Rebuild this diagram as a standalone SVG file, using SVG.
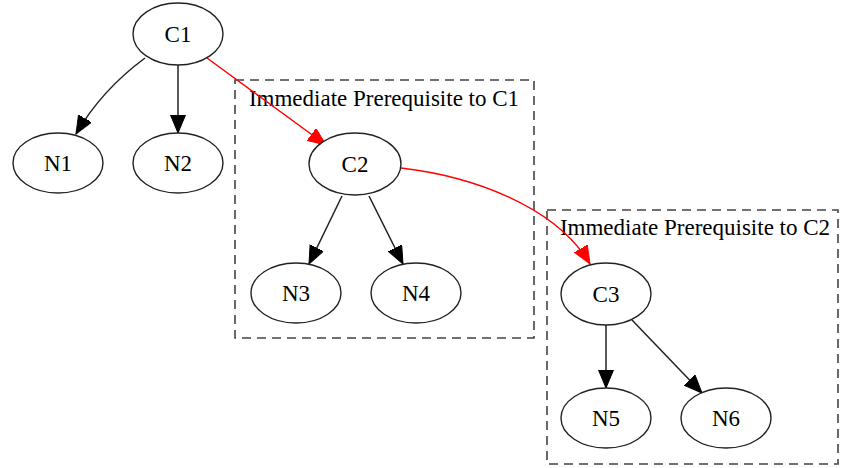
<svg xmlns="http://www.w3.org/2000/svg" width="843" height="468" viewBox="0 0 843 468">
<style>
.node ellipse{fill:#fff;stroke:#222;stroke-width:1.4}
text{font-family:"Liberation Serif","Times New Roman",serif;font-size:23px;fill:#000;text-anchor:middle}
.cluster rect{fill:none;stroke:#444;stroke-width:1.6;stroke-dasharray:9,6}
.edge{fill:none;stroke:#222;stroke-width:1.5}
.red{stroke:#f00}
</style>
<defs>
<marker id="ab" markerUnits="userSpaceOnUse" markerWidth="20" markerHeight="16" refX="18" refY="7.5" orient="auto" viewBox="0 0 20 16">
<path d="M0,0 L18,7.5 L0,15 Z" fill="#000" stroke="#000" stroke-width="1"/>
</marker>
<marker id="ar" markerUnits="userSpaceOnUse" markerWidth="20" markerHeight="16" refX="18" refY="7.5" orient="auto" viewBox="0 0 20 16">
<path d="M0,0 L18,7.5 L0,15 Z" fill="#f00" stroke="#f00" stroke-width="1"/>
</marker>
</defs>
<g id="cluster1" class="cluster"><rect x="235" y="80" width="299" height="258"/><text x="384" y="106">Immediate Prerequisite to C1</text></g>
<g id="cluster2" class="cluster"><rect x="547" y="210" width="291" height="254"/><text x="695" y="235">Immediate Prerequisite to C2</text></g>
<g id="edges">
<path class="edge" d="M145,58 C118,78 94,103 76,134" marker-end="url(#ab)"/>
<path class="edge" d="M178,65 L178,133" marker-end="url(#ab)"/>
<path class="edge red" d="M207,58 L326,145" marker-end="url(#ar)"/>
<path class="edge" d="M342,196 L309,264" marker-end="url(#ab)"/>
<path class="edge" d="M369,196 L403,264" marker-end="url(#ab)"/>
<path class="edge red" d="M401,168 C470,176 555,205 590,264" marker-end="url(#ar)"/>
<path class="edge" d="M606,325 L606,388" marker-end="url(#ab)"/>
<path class="edge" d="M632,320 L702,393" marker-end="url(#ab)"/>
</g>
<g id="C1" class="node"><ellipse cx="178" cy="34" rx="45" ry="31"/><text x="178" y="42">C1</text></g>
<g id="N1" class="node"><ellipse cx="58" cy="163" rx="45" ry="30"/><text x="58" y="171">N1</text></g>
<g id="N2" class="node"><ellipse cx="178" cy="163" rx="45" ry="30"/><text x="178" y="171">N2</text></g>
<g id="C2" class="node"><ellipse cx="355" cy="164" rx="46" ry="31"/><text x="355" y="172">C2</text></g>
<g id="N3" class="node"><ellipse cx="296" cy="293" rx="45" ry="30"/><text x="296" y="301">N3</text></g>
<g id="N4" class="node"><ellipse cx="416" cy="293" rx="45" ry="30"/><text x="416" y="301">N4</text></g>
<g id="C3" class="node"><ellipse cx="606" cy="294" rx="45" ry="31"/><text x="606" y="302">C3</text></g>
<g id="N5" class="node"><ellipse cx="606" cy="418" rx="45" ry="30"/><text x="606" y="426">N5</text></g>
<g id="N6" class="node"><ellipse cx="726" cy="418" rx="45" ry="30"/><text x="726" y="426">N6</text></g>
</svg>
